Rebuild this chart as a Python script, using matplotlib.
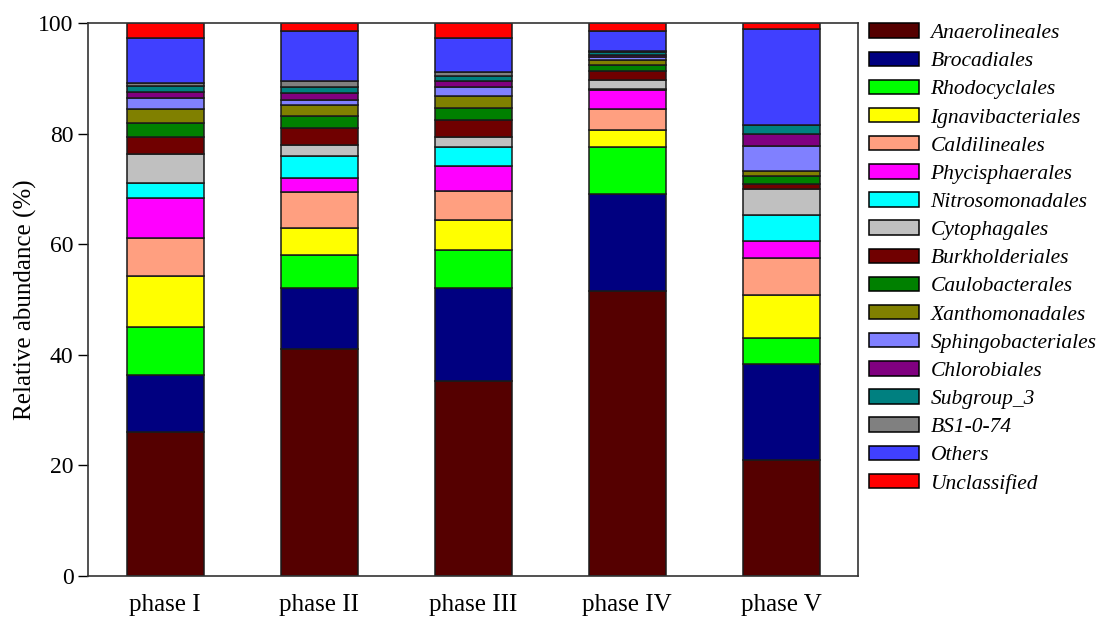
import matplotlib
matplotlib.use("Agg")
import matplotlib.pyplot as plt
from matplotlib.patches import Patch
import numpy as np

plt.rcParams['font.family'] = ['Liberation Serif', 'DejaVu Serif']

phases = ["phase I", "phase II", "phase III", "phase IV", "phase V"]

taxa = ["Anaerolineales", "Brocadiales", "Rhodocyclales", "Ignavibacteriales",
        "Caldilineales", "Phycisphaerales", "Nitrosomonadales", "Cytophagales",
        "Burkholderiales", "Caulobacterales", "Xanthomonadales", "Sphingobacteriales",
        "Chlorobiales", "Subgroup_3", "BS1-0-74", "Others", "Unclassified"]

colors = ["#550000", "#000080", "#00ff00", "#ffff00", "#ff9f80", "#ff00ff",
          "#00ffff", "#c0c0c0", "#700000", "#008000", "#808000", "#8080ff",
          "#800080", "#008080", "#808080", "#4040ff", "#ff0000"]

# relative abundance (%) per taxon, order = phases I..V
anaerolineales = [26.0, 41.0, 35.3, 51.5, 21.0]
brocadiales = [10.4, 11.1, 16.8, 17.5, 17.3]
rhodocyclales = [8.7, 5.9, 6.9, 8.5, 4.7]
ignavibacteriales = [9.1, 4.9, 5.4, 3.2, 7.9]
caldilineales = [7.0, 6.6, 5.3, 3.8, 6.6]
phycisphaerales = [7.1, 2.5, 4.4, 3.3, 3.1]
nitrosomonadales = [2.8, 3.9, 3.5, 0.2, 4.6]
cytophagales = [5.2, 2.0, 1.8, 1.7, 4.8]
burkholderiales = [3.0, 3.1, 3.0, 1.6, 0.8]
caulobacterales = [2.7, 2.2, 2.3, 1.1, 1.5]
xanthomonadales = [2.4, 1.9, 2.1, 0.9, 1.0]
sphingobacteriales = [2.0, 1.0, 1.6, 0.5, 4.5]
chlorobiales = [1.1, 1.3, 1.2, 0.5, 2.2]
subgroup_3 = [1.1, 1.1, 0.9, 0.4, 1.6]
bs1_0_74 = [0.5, 1.1, 0.6, 0.3, 0.0]
others = [8.2, 9.0, 6.2, 3.6, 17.3]
unclassified = [2.7, 1.4, 2.7, 1.4, 1.1]

series = [anaerolineales, brocadiales, rhodocyclales, ignavibacteriales,
          caldilineales, phycisphaerales, nitrosomonadales, cytophagales,
          burkholderiales, caulobacterales, xanthomonadales, sphingobacteriales,
          chlorobiales, subgroup_3, bs1_0_74, others, unclassified]

fig = plt.figure(figsize=(11.06, 6.19), dpi=100)
ax = fig.add_axes([0.0796, 0.0695, 0.6962, 0.8933])

x = np.arange(len(phases))
bottom = np.zeros(len(phases))
for name, vals, c in zip(taxa, series, colors):
    vals = np.array(vals)
    ax.bar(x, vals, 0.5, bottom=bottom, color=c, edgecolor="#1a1a1a",
           linewidth=1.1, label=name)
    bottom += vals

ax.set_xlim(-0.5, 4.5)
ax.set_ylim(0, 100)
ax.set_xticks(x)
ax.set_xticklabels(phases, fontsize=18)
ax.set_yticks([0, 20, 40, 60, 80, 100])
ax.tick_params(axis='y', direction='out', length=7, labelsize=17, width=1)
ax.tick_params(axis='x', length=0, pad=13)
ax.set_ylabel("Relative abundance (%)", fontsize=18, labelpad=1)
for s in ax.spines.values():
    s.set_linewidth(1.2)
    s.set_color("#333333")

handles = [Patch(facecolor=c, edgecolor="black", linewidth=1.1) for c in colors]
leg = fig.legend(handles, taxa, loc="upper left", bbox_to_anchor=(0.778, 0.976),
                 frameon=False, fontsize=15.5, handlelength=2.3, handleheight=0.65,
                 labelspacing=0.39, handletextpad=0.55, borderaxespad=0)
for t in leg.get_texts():
    t.set_fontstyle("italic")

fig.savefig("out.png", dpi=100)
